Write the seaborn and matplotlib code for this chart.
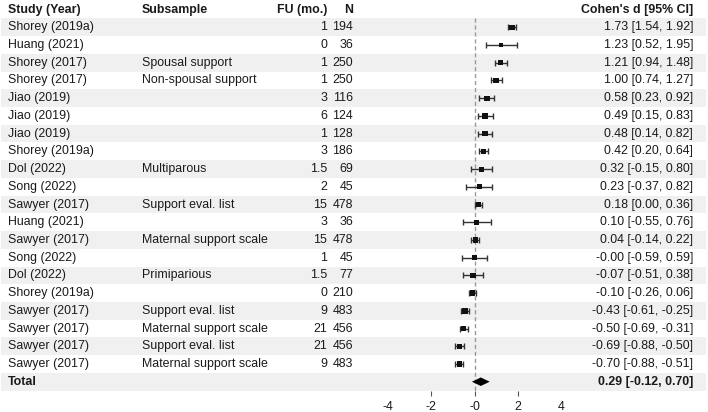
import numpy as np
import pandas as pd
import matplotlib
matplotlib.use("Agg")
import matplotlib.pyplot as plt
import seaborn as sns

studies = ["Shorey (2019a)", "Huang (2021)", "Shorey (2017)", "Shorey (2017)",
           "Jiao (2019)", "Jiao (2019)", "Jiao (2019)", "Shorey (2019a)",
           "Dol (2022)", "Song (2022)", "Sawyer (2017)", "Huang (2021)",
           "Sawyer (2017)", "Song (2022)", "Dol (2022)", "Shorey (2019a)",
           "Sawyer (2017)", "Sawyer (2017)", "Sawyer (2017)", "Sawyer (2017)"]
subsamples = ["", "", "Spousal support", "Non-spousal support",
              "", "", "", "",
              "Multiparous", "", "Support eval. list", "",
              "Maternal support scale", "", "Primiparious", "",
              "Support eval. list", "Maternal support scale", "Support eval. list", "Maternal support scale"]
fu_months = [1, 0, 1, 1, 3, 6, 1, 3, 1.5, 2, 15, 3, 15, 1, 1.5, 0, 9, 21, 21, 9]
n_sizes = [194, 36, 250, 250, 116, 124, 128, 186, 69, 45, 478, 36, 478, 45, 77, 210, 483, 456, 456, 483]
cohens_d = [1.73, 1.23, 1.21, 1.00, 0.58, 0.49, 0.48, 0.42, 0.32, 0.23, 0.18, 0.10, 0.04, -0.0,
            -0.07, -0.10, -0.43, -0.50, -0.69, -0.70]
ci_low = [1.54, 0.52, 0.94, 0.74, 0.23, 0.15, 0.14, 0.20, -0.15, -0.37, 0.00, -0.55, -0.14, -0.59,
          -0.51, -0.26, -0.61, -0.69, -0.88, -0.88]
ci_high = [1.92, 1.95, 1.48, 1.27, 0.92, 0.83, 0.82, 0.64, 0.80, 0.82, 0.36, 0.76, 0.22, 0.59,
           0.38, 0.06, -0.25, -0.31, -0.50, -0.51]
total_d, total_low, total_high = 0.29, -0.12, 0.70
x_ticks = [-4, -2, 0, 2, 4]
x_tick_labels = ["-4", "-2", "-0", "2", "4"]
headers = ["Study (Year)", "Subsample", "FU (mo.)", "N", "Cohen's d [95% CI]"]

sns.set_style("white")
plt.rcParams["font.family"] = ["Liberation Sans", "DejaVu Sans"]
FS = 8.9
TXT = "#1a1a1a"

df = pd.DataFrame({"study": studies, "sub": subsamples, "fu": fu_months, "n": n_sizes,
                   "d": cohens_d, "lo": ci_low, "hi": ci_high})
df["row"] = np.arange(1, len(df) + 1)
se = (df["hi"] - df["lo"]) / 3.92
df["w"] = 1.0 / (se ** 2 + 0.6)
total_row = len(df) + 1

W, H = 708, 412
fig = plt.figure(figsize=(W / 100, H / 100), dpi=100)

# row geometry (layout): row r centre at pixel 9.6 + 17.72 r from top
pitch, off = 17.72, 9.6
def r_at(py):
    return (py - off) / pitch

bg = fig.add_axes([0, 0, 1, 1])
bg.set_xlim(0, W)
bg.set_ylim(r_at(H), r_at(0))
bg.axis("off")

for r in range(1, total_row + 1, 2):
    bg.axhspan(r - 0.5, r + 0.5, xmin=1 / W, xmax=706 / W, color="#f0f0f0", lw=0, zorder=0)

# headers
hx = [(8, "left"), (142, "left"), (327, "right"), (353, "right"), (693, "right")]
for (x, ha), h in zip(hx, headers):
    bg.text(x, 0, h, ha=ha, va="center", fontsize=FS, fontweight="bold", color=TXT)

for _, row in df.iterrows():
    r = row["row"]
    bg.text(8, r, row["study"], ha="left", va="center", fontsize=FS, color=TXT)
    bg.text(142, r, row["sub"], ha="left", va="center", fontsize=FS, color=TXT)
    bg.text(327, r, f"{row['fu']:g}", ha="right", va="center", fontsize=FS, color=TXT)
    bg.text(353, r, f"{int(row['n'])}", ha="right", va="center", fontsize=FS, color=TXT)
    bg.text(693, r, f"{row['d']:.2f} [{row['lo']:.2f}, {row['hi']:.2f}]",
            ha="right", va="center", fontsize=FS, color=TXT)

bg.text(8, total_row, "Total", ha="left", va="center", fontsize=FS, fontweight="bold", color=TXT)
bg.text(693, total_row, f"{total_d:.2f} [{total_low:.2f}, {total_high:.2f}]",
        ha="right", va="center", fontsize=FS, fontweight="bold", color=TXT)

# forest axes
x0_px, scale = 474.5, 21.7
left_px, right_px, bottom_px = 360, 600, 391
ax = fig.add_axes([left_px / W, (H - bottom_px) / H, (right_px - left_px) / W, bottom_px / H])
ax.patch.set_alpha(0)
ax.set_xlim((left_px - x0_px) / scale, (right_px - x0_px) / scale)
ax.set_ylim(r_at(bottom_px), r_at(0))
for s in ax.spines.values():
    s.set_visible(False)

ax.vlines(0, 0.5, r_at(bottom_px), colors="#9a9a9a", linestyles=(0, (3, 2)), lw=1, zorder=1)

ax.errorbar(df["d"], df["row"], xerr=[df["d"] - df["lo"], df["hi"] - df["d"]], fmt="none",
            ecolor="#333333", elinewidth=1, capsize=2.2, capthick=1, zorder=2)
sns.scatterplot(data=df, x="d", y="row", size="w", sizes=(10, 16), marker="s",
                color="#111111", edgecolor="none", legend=False, ax=ax, zorder=3)

hh = 0.24
ax.fill([total_low, total_d, total_high, total_d],
        [total_row, total_row - hh, total_row, total_row + hh], color="#000000", lw=0, zorder=3)

ax.set_xticks(x_ticks)
ax.set_xticklabels(x_tick_labels, fontsize=FS, color=TXT)
ax.set_yticks([])
ax.set_xlabel("")
ax.set_ylabel("")
ax.tick_params(axis="x", bottom=True, direction="out", length=3.6, width=0.8,
               color="#555555", pad=3.5)
ticks = ax.xaxis.get_major_ticks()
for i, t in enumerate(x_ticks):
    if t in (-4, 4):
        ticks[i].tick1line.set_visible(False)

fig.savefig("out.png", dpi=100)
